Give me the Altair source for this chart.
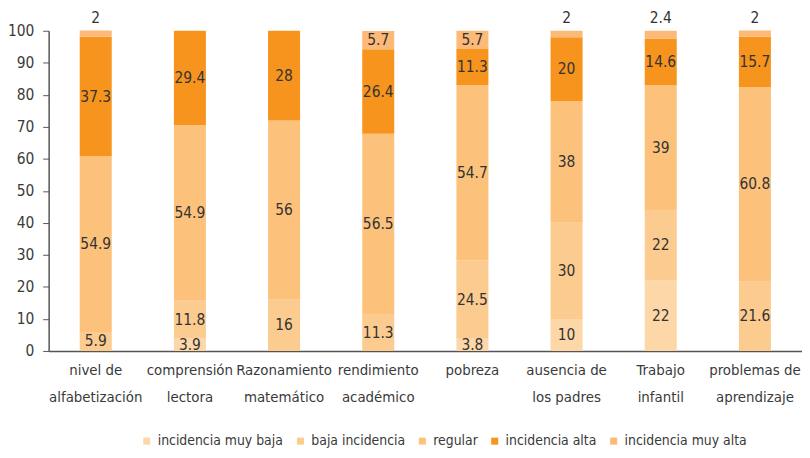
import altair as alt
import pandas as pd

categories = ["nivel de\nalfabetización", "comprensión\nlectora", "Razonamiento\nmatemático",
              "rendimiento\nacadémico", "pobreza", "ausencia de\nlos padres", "Trabajo\ninfantil",
              "problemas de\naprendizaje"]
series = ["incidencia muy baja", "baja incidencia", "regular", "incidencia alta", "incidencia muy alta"]
colors = ["#FDD7A8", "#FCCB8F", "#FCC27B", "#F7941D", "#FDB977"]

muy_baja = [0, 3.9, 0, 0, 3.8, 10, 22, 0]
baja = [5.9, 11.8, 16, 11.3, 24.5, 30, 22, 21.6]
regular = [54.9, 54.9, 56, 56.5, 54.7, 38, 39, 60.8]
alta = [37.3, 29.4, 28, 26.4, 11.3, 20, 14.6, 15.7]
muy_alta = [2, 0, 0, 5.7, 5.7, 2, 2.4, 2]
y_ticks = [0, 10, 20, 30, 40, 50, 60, 70, 80, 90, 100]

rows = []
for vals, s_idx in zip([muy_baja, baja, regular, alta, muy_alta], range(5)):
    for c, v in zip(categories, vals):
        rows.append({"cat": c, "serie": series[s_idx], "ord": s_idx, "value": v})
df = pd.DataFrame(rows)

FONT = "DejaVu Sans Condensed, Liberation Sans Narrow, sans-serif"
TXT = "#3a3a3a"

base = alt.Chart(df).transform_filter("datum.value > 0").transform_stack(
    stack="value", groupby=["cat"], as_=["y0", "y1"], sort=[alt.SortField("ord", order="ascending")]
)

x_axis = alt.Axis(labelExpr="split(datum.label, '\\n')", labelAngle=0, labelFontSize=15,
                  labelLineHeight=27, labelColor=TXT, labelFont=FONT, ticks=False,
                  labelPadding=12, domainColor="#555555", domainWidth=1.5)
y_axis = alt.Axis(values=y_ticks, tickSize=6, labelPadding=9,
                  labelFontSize=15.5, labelFont=FONT, labelColor=TXT, grid=False,
                  labelOverlap=False, domainColor="#555555", tickColor="#555555",
                  domainWidth=1.5)
x_scale = alt.Scale(paddingInner=0.66, paddingOuter=0.33)
y_scale = alt.Scale(domain=[0, 100], nice=False)

bars = base.mark_bar().encode(
    x=alt.X("cat:N", sort=categories, title=None, scale=x_scale, axis=x_axis),
    y=alt.Y("y0:Q", title=None, scale=y_scale, axis=y_axis),
    y2="y1:Q",
    color=alt.Color("serie:N", sort=series, scale=alt.Scale(domain=series, range=colors),
                    legend=alt.Legend(title=None, orient="none", legendX=92, legendY=407,
                                      direction="horizontal", symbolType="square", symbolSize=50,
                                      labelFontSize=14, labelFont=FONT, labelColor=TXT,
                                      columnPadding=10, symbolStrokeWidth=0, labelOffset=4)),
)

labels = base.transform_calculate(
    ly="(datum.value < 3 && datum.serie == 'incidencia muy alta') ? 104 : (datum.y0 + datum.y1) / 2"
).mark_text(fontSize=15.5, font=FONT, color="#333333", baseline="middle").encode(
    x=alt.X("cat:N", sort=categories, title=None, scale=x_scale, axis=x_axis),
    y=alt.Y("ly:Q", title=None, scale=y_scale, axis=y_axis),
    text=alt.Text("value:Q"),
)

chart = (bars + labels).properties(
    width=760, height=323,
    autosize=alt.AutoSizeParams(type="none"),
    padding={"left": 41, "top": 21, "right": 0, "bottom": 100},
).configure_view(stroke=None)

chart.save("out.html", embed_options={"renderer": "svg", "actions": False})
